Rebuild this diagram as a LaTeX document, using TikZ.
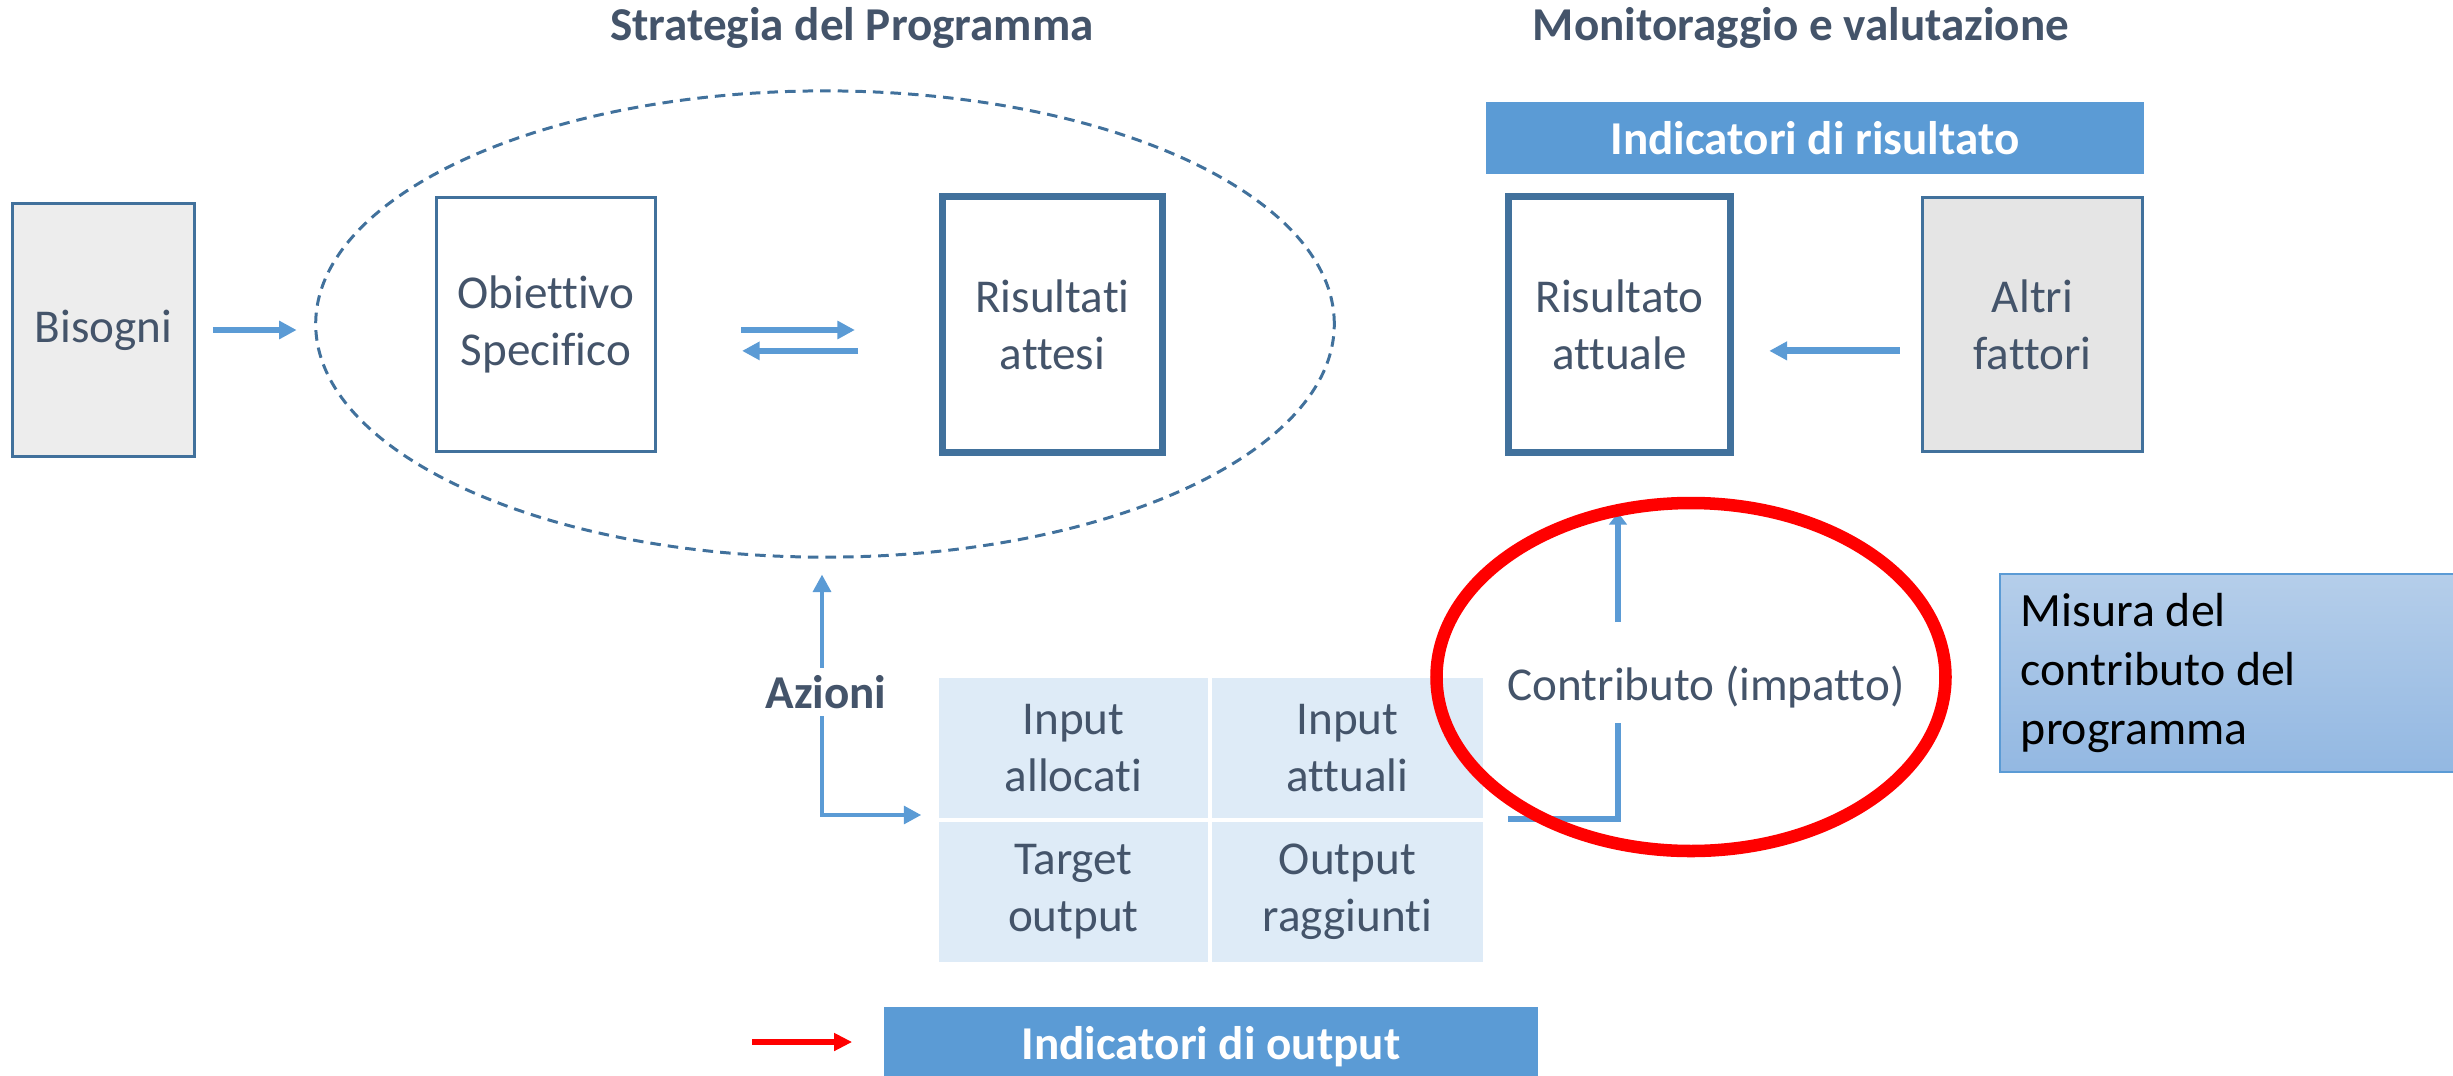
\documentclass[tikz,border=0pt]{standalone}
\usepackage{fontspec}
\setmainfont{Carlito}[Ligatures=NoCommon]
\usetikzlibrary{shapes.geometric,arrows.meta}
\definecolor{txt}{HTML}{44546A}
\definecolor{bord}{HTML}{41719C}
\definecolor{arrb}{HTML}{5B9BD5}
\definecolor{grayA}{HTML}{EDEDED}
\definecolor{grayB}{HTML}{E5E5E5}
\definecolor{cellf}{HTML}{DEEBF7}
\definecolor{barf}{HTML}{5B9BD5}
\definecolor{mtop}{HTML}{B5CEEA}
\definecolor{mbot}{HTML}{93B8E2}
\begin{document}
\begin{tikzpicture}[x=0.01cm,y=-0.01cm,
  lbl/.style={font=\fontsize{13.4pt}{16.2pt}\selectfont, text=txt, align=center},
  ttl/.style={font=\fontsize{13.4pt}{16.2pt}\selectfont\bfseries, text=txt},
  thinbox/.style={lbl, draw=bord, line width=0.8pt, inner sep=0pt},
  thickbox/.style={lbl, draw=bord, line width=2pt, fill=white, inner sep=0pt},
  bar/.style={fill=barf, text=white, font=\fontsize{13.4pt}{16.2pt}\selectfont\bfseries, inner sep=0pt},
  cell/.style={lbl, fill=cellf, inner sep=0pt, minimum height=1.4cm},
  arr/.style={draw=arrb, line width=1.6pt, -{Triangle[length=5pt,width=5pt]}},
]
\useasboundingbox (0,0) rectangle (2453,1075);

% titles
\node[ttl, anchor=base] (t1) at (852,40) {Strategia del Programma};
\node[ttl, anchor=base] (t2) at (1801,40) {Monitoraggio e valutazione};

% strategy ellipse
\node[ellipse, draw=bord, line width=0.85pt, dash pattern=on 3pt off 2pt,
      minimum width=10.18cm, minimum height=4.66cm, inner sep=0pt] (strat) at (825,324) {};

% boxes
\node[thinbox, fill=grayA, minimum width=1.82cm, minimum height=2.53cm] (bisogni) at (103.5,330) {Bisogni};
\node[thinbox, fill=white, minimum width=2.19cm, minimum height=2.54cm] (obiettivo) at (546,324.5) {Obiettivo\\Specifico};
\node[thickbox, minimum width=2.2cm, minimum height=2.56cm] (attesi) at (1052.5,324.5) {Risultati\\attesi};

\node[bar, minimum width=6.58cm, minimum height=0.72cm] (indris) at (1815,138) {Indicatori di risultato};
\node[thickbox, minimum width=2.22cm, minimum height=2.56cm] (attuale) at (1619.5,324.5) {Risultato\\attuale};
\node[thinbox, fill=grayB, minimum width=2.2cm, minimum height=2.54cm] (altri) at (2032.5,324.5) {Altri\\fattori};

% table
\node[cell, minimum width=2.69cm] (c11) at (1073.5,748) {Input\\allocati};
\node[cell, minimum width=2.71cm] (c12) at (1347.5,748) {Input\\attuali};
\node[cell, minimum width=2.69cm] (c21) at (1073.5,892) {Target\\output};
\node[cell, minimum width=2.71cm] (c22) at (1347.5,892) {Output\\raggiunti};

% output bar
\node[bar, minimum width=6.54cm, minimum height=0.8cm, anchor=north] (indout) at (1211,1006) {Indicatori di output};

% misura box
\node[draw=arrb, line width=0.5pt, top color=mtop, bottom color=mbot, anchor=north west,
      minimum height=1.98cm, text width=4.28cm, inner xsep=0.21cm, inner ysep=0pt, align=flush left,
      font=\fontsize{13.6pt}{16.8pt}\selectfont, text=black] (misura) at (1999,573)
      {Misura del\\contributo del\\programma};

% arrows top row
\draw[arr, shorten <=4.8pt, shorten >=5pt] (bisogni.east) -- (bisogni.east -| strat.west);
\draw[arr, shorten <=23.9pt, shorten >=23.9pt] ([yshift=-1.56pt]obiettivo.east) -- ([yshift=-1.56pt]obiettivo.east -| attesi.west);
\draw[arr, shorten <=23pt, shorten >=24.2pt] ([yshift=-7.5pt]attesi.west) -- ([yshift=-7.5pt]attesi.west -| obiettivo.east);
\draw[arr, line width=2pt, -{Triangle[length=5.1pt,width=5.1pt]}, shorten <=6pt, shorten >=10pt] ([yshift=-7.5pt]altri.west) -- ([yshift=-7.5pt]altri.west -| attuale.east);

% Azioni connector
\coordinate (azc) at (822,815);
\draw[arr, line width=1.4pt, {Triangle[length=5pt,width=5pt]}-{Triangle[length=5pt,width=5pt]},
      shorten <=4.5pt, shorten >=4.8pt] (strat.south -| azc) -- (azc) -- (azc -| c11.west);
\node[ttl, fill=white, inner xsep=1pt, inner ysep=2.2pt] (azioni) at (826,692) {Azioni};

% Contributo connector
\coordinate (cst) at (1508,819);
\coordinate (ccor) at (1618,819);
\coordinate (cgapb) at (1618,723);
\coordinate (cgapt) at (1618,622);
\draw[draw=arrb, line width=1.7pt] (cst) -- (ccor) -- (cgapb);
\draw[arr, line width=1.7pt, -{Triangle[length=3.5pt,width=5pt]}, shorten >=16pt] (cgapt) -- (cgapt |- attuale.south);
\node[lbl, anchor=base] (contrib) at (1706,700) {Contributo (impatto)};

% red arrow
\coordinate (rst) at (752,1042);
\draw[draw=red, line width=1.85pt, -{Triangle[length=5.1pt,width=4.8pt]}, shorten >=8.8pt] (rst) -- (rst -| indout.west);

% red ellipse
\draw[red, line width=3.56pt] (1691,677) ellipse [x radius=254.5, y radius=174];
\end{tikzpicture}
\end{document}
